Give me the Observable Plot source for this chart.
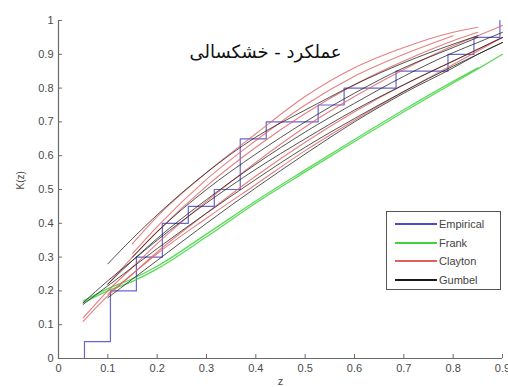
<!DOCTYPE html>
<html>
<head>
<meta charset="utf-8">
<script src="https://cdn.jsdelivr.net/npm/d3@7"></script>
<script src="https://cdn.jsdelivr.net/npm/@observablehq/plot@0.6"></script>
<style>
  body { margin: 0; background: #fff; }
  #wrap { position: relative; width: 508px; height: 387px; overflow: hidden; }
  #legend { position: absolute; left: 386px; top: 211px; width: 113px; height: 77px;
    border: 1px solid #555; background: #fff; font: 11px "Liberation Sans", Arial, sans-serif; color: #444; }
  #legend .row { position: absolute; left: 0; height: 14px; display: flex; align-items: center; }
  #legend .sw { display: inline-block; width: 42px; height: 1.5px; margin-left: 8px; margin-right: 2px; }
</style>
</head>
<body>
<div id="wrap"><div id="chart"></div><div id="legend"></div></div>
<script>
const title = "عملکرد - خشکسالی";
const xLabel = "z";
const yLabel = "K(z)";
const xTicks = [0, 0.1, 0.2, 0.3, 0.4, 0.5, 0.6, 0.7, 0.8, 0.9];
const yTicks = [0, 0.1, 0.2, 0.3, 0.4, 0.5, 0.6, 0.7, 0.8, 0.9, 1];
const seriesNames = ["Empirical", "Frank", "Clayton", "Gumbel"];
const seriesColors = ["#4b4bc8", "#3fd43f", "#e06060", "#1a1a1a"];

// Empirical step function
const empiricalZ = [1,1,2,3,4,5,6,7,8,9,10,11,12,13,14,15,16,17].map(k => k / 19);
const empiricalK = [0, 0.05, 0.2, 0.3, 0.4, 0.45, 0.5, 0.65, 0.7, 0.7, 0.75, 0.8, 0.8, 0.85, 0.85, 0.9, 0.95, 1.0];

// Fitted K(z) curves, sampled at gridZ
const gridZ = [0.05, 0.1, 0.15, 0.2, 0.3, 0.4, 0.5, 0.6, 0.7, 0.8, 0.85, 0.9];
const frankK = [
  [0.165, 0.2, 0.228, 0.265, 0.36, 0.46, 0.552, 0.642, 0.73, 0.815, 0.857, 0.9],
  [0.17, 0.207, 0.236, 0.273, 0.368, 0.466, 0.558, 0.648, 0.736, 0.82, 0.86, null]
];
const claytonK = [
  [null, null, 0.34, 0.42, 0.55, 0.665, 0.775, 0.86, 0.92, 0.965, 0.98, null],
  [0.11, 0.185, 0.25, 0.315, 0.43, 0.54, 0.64, 0.73, 0.81, 0.88, 0.915, 0.95],
  [0.12, 0.2, 0.27, 0.34, 0.465, 0.58, 0.685, 0.775, 0.855, 0.925, 0.955, 0.985],
  [null, 0.22, 0.3, 0.375, 0.51, 0.625, 0.725, 0.81, 0.88, 0.94, 0.965, null],
  [null, 0.19, 0.25, 0.31, 0.415, 0.515, 0.615, 0.705, 0.79, 0.87, 0.91, 0.95],
  [null, null, 0.31, 0.39, 0.53, 0.645, 0.75, 0.835, 0.9, 0.955, null, null]
];
const gumbelK = [
  [null, 0.28, 0.355, 0.425, 0.55, 0.655, 0.735, 0.81, 0.875, 0.93, 0.955, null],
  [0.16, 0.215, 0.27, 0.325, 0.43, 0.53, 0.625, 0.71, 0.79, 0.865, 0.9, 0.935],
  [null, 0.22, 0.29, 0.355, 0.47, 0.575, 0.67, 0.755, 0.835, 0.905, 0.935, 0.965],
  [null, null, 0.3, 0.375, 0.5, 0.605, 0.7, 0.785, 0.86, 0.92, 0.95, null],
  [null, 0.18, 0.235, 0.29, 0.4, 0.505, 0.605, 0.7, 0.785, 0.86, 0.9, 0.935],
  [0.165, 0.23, 0.29, 0.35, 0.46, 0.56, 0.65, 0.735, 0.81, 0.88, 0.915, 0.95]
];

function toRows(curves, family) {
  const rows = [];
  curves.forEach((ks, i) => ks.forEach((k, j) => {
    if (k != null) rows.push({z: gridZ[j], k, id: family + i});
  }));
  return rows;
}
const empRows = empiricalZ.map((z, i) => ({z, k: empiricalK[i]}));

const axisColor = "#6a6a6a";
const font = "Liberation Sans, Arial, sans-serif";

const chart = Plot.plot({
  width: 508, height: 387,
  marginLeft: 58, marginRight: 6, marginTop: 20, marginBottom: 29,
  style: {fontFamily: font, fontSize: "11px", color: "#4a4a4a", background: "#fff"},
  x: {domain: [0, 0.9]},
  y: {domain: [0, 1]},
  marks: [
    Plot.line(empRows, {x: "z", y: "k", curve: "step-after", stroke: seriesColors[0], strokeWidth: 1.2, strokeOpacity: 0.85}),
    Plot.line(toRows(frankK, "f"), {x: "z", y: "k", z: "id", curve: "monotone-x", stroke: seriesColors[1], strokeWidth: 1.3, strokeOpacity: 0.85}),
    Plot.line(toRows(claytonK, "c"), {x: "z", y: "k", z: "id", curve: "monotone-x", stroke: seriesColors[2], strokeWidth: 1.1, strokeOpacity: 0.8}),
    Plot.line(toRows(gumbelK, "g"), {x: "z", y: "k", z: "id", curve: "monotone-x", stroke: seriesColors[3], strokeWidth: 1, strokeOpacity: 0.75}),
    Plot.ruleY([0], {stroke: axisColor, strokeWidth: 1.2}),
    Plot.ruleX([0], {stroke: axisColor, strokeWidth: 1.2}),
    Plot.ruleX(xTicks, {y1: 0, y2: 0.012, stroke: axisColor}),
    Plot.ruleY(yTicks, {x1: 0, x2: 0.008, stroke: axisColor}),
    Plot.axisX({ticks: xTicks, tickSize: 0, tickPadding: 6, tickFormat: d => String(d), label: null, fill: "#4a4a4a"}),
    Plot.axisY({ticks: yTicks, tickSize: 0, tickPadding: 5, tickFormat: d => String(d), label: null, fill: "#4a4a4a"}),
    Plot.text([yLabel], {frameAnchor: "left", rotate: -90, dx: -38, fontSize: 10, fill: "#4a4a4a"}),
    Plot.text([xLabel], {frameAnchor: "bottom", lineAnchor: "top", dy: 19, fontSize: 11, fill: "#4a4a4a"}),
    Plot.text([title], {frameAnchor: "top", dx: -15, dy: 25, fontSize: 18, fill: "#111", fontFamily: "DejaVu Sans"})
  ]
});
document.getElementById("chart").appendChild(chart);

const legend = document.getElementById("legend");
const rowTops = [5, 24, 42, 61];
seriesNames.forEach((name, i) => {
  const row = document.createElement("div");
  row.className = "row";
  row.style.top = rowTops[i] + "px";
  const sw = document.createElement("span");
  sw.className = "sw";
  sw.style.background = seriesColors[i];
  const t = document.createElement("span");
  t.textContent = name;
  row.appendChild(sw); row.appendChild(t);
  legend.appendChild(row);
});
</script>
</body>
</html>
